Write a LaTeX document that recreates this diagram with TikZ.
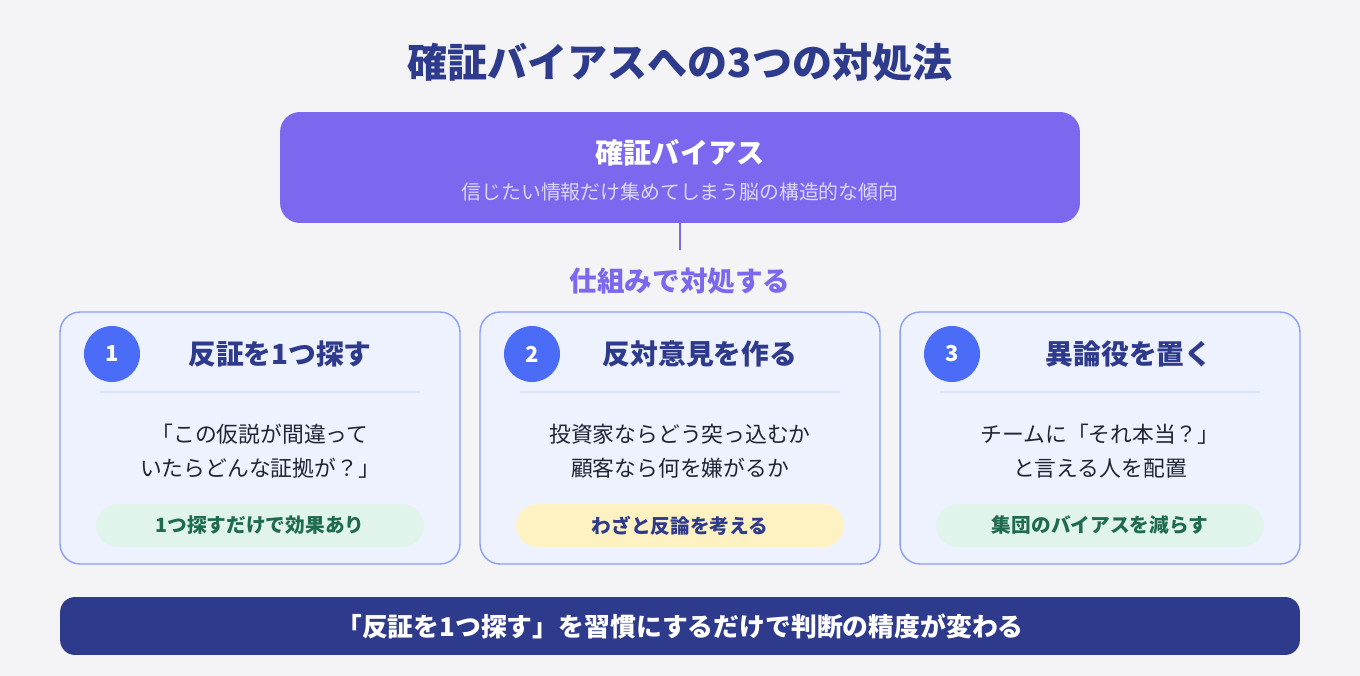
\documentclass[tikz,border=0pt]{standalone}
\usepackage{fontspec}
\setmainfont{Noto Sans CJK JP}

\definecolor{bgc}{HTML}{F4F4F7}
\definecolor{violet}{HTML}{7B68EE}
\definecolor{lavender}{HTML}{DCD6FB}
\definecolor{navy}{HTML}{2E3A8C}
\definecolor{cardbg}{HTML}{EEF2FF}
\definecolor{cardline}{HTML}{8AA0F8}
\definecolor{numblue}{HTML}{4A6CF7}
\definecolor{rule}{HTML}{DCE3FB}
\definecolor{ink}{HTML}{1F2433}
\definecolor{greenbg}{HTML}{E0F4EC}
\definecolor{greentx}{HTML}{1E6B4F}
\definecolor{yellowbg}{HTML}{FFF2C2}

\tikzstyle{card} = [draw=cardline, fill=cardbg, line width=0.8pt, rounded corners=0.4cm, minimum width=8cm, minimum height=5.04cm]
\tikzstyle{num} = [circle, fill=numblue, minimum size=1.12cm, inner sep=0pt, text=white, font=\bfseries\fontsize{12.5}{14}\selectfont]
\tikzstyle{ctitle} = [text=navy, font=\bfseries\fontsize{15.8}{18}\selectfont]
\tikzstyle{body} = [text=ink, align=center, font=\fontsize{12.4}{19.3}\selectfont]
\tikzstyle{pill} = [rounded corners=0.43cm, minimum width=6.56cm, minimum height=0.86cm, font=\bfseries\fontsize{11.2}{13}\selectfont]

\begin{document}
\begin{tikzpicture}[x=0.02cm, y=-0.02cm]
    \fill[bgc] (0,0) rectangle (1360,676);

    \node[text=navy, font=\bfseries\fontsize{22.8}{27}\selectfont] (T) at (680,62) {確証バイアスへの3つの対処法};

    % top box
    \node[fill=violet, rounded corners=0.4cm, minimum width=16cm, minimum height=2.22cm] (bias) at (680,167.5) {};
    \node[text=white, font=\bfseries\fontsize{16}{19}\selectfont] (biasT) at (680,153) {確証バイアス};
    \node[text=lavender, font=\fontsize{11.3}{13}\selectfont] (biasS) at (680,192) {信じたい情報だけ集めてしまう脳の構造的な傾向};
    \coordinate (link) at (680,250);
    \draw[violet, line width=1.4pt] (bias.south) -- (link);
    \node[text=violet, font=\bfseries\fontsize{15.7}{18}\selectfont] (how) at (680,281) {仕組みで対処する};

    % card 1
    \node[card] (C1) at (260,438) {};
    \node[num] (N1) at (112,354) {1};
    \node[ctitle] (H1) at (280,354) {反証を1つ探す};
    \draw[rule, line width=1.2pt] (100,392) -- (420,392);
    \node[body] (B1) at (260,451) {「この仮説が間違って\\いたらどんな証拠が？」};
    \node[pill, fill=greenbg, text=greentx] (P1) at (260,525.5) {1つ探すだけで効果あり};

    % card 2
    \node[card] (C2) at (680,438) {};
    \node[num] (N2) at (532,354) {2};
    \node[ctitle] (H2) at (700,354) {反対意見を作る};
    \draw[rule, line width=1.2pt] (520,392) -- (840,392);
    \node[body] (B2) at (680,451) {投資家ならどう突っ込むか\\顧客なら何を嫌がるか};
    \node[pill, fill=yellowbg, text=navy] (P2) at (680,525.5) {わざと反論を考える};

    % card 3
    \node[card] (C3) at (1100,438) {};
    \node[num] (N3) at (952,354) {3};
    \node[ctitle] (H3) at (1129,354) {異論役を置く};
    \draw[rule, line width=1.2pt] (940,392) -- (1260,392);
    \node[body] (B3) at (1100,451) {チームに「それ本当？」\\と言える人を配置};
    \node[pill, fill=greenbg, text=greentx] (P3) at (1100,525.5) {集団のバイアスを減らす};

    % bottom bar
    \node[fill=navy, rounded corners=0.3cm, minimum width=24.8cm, minimum height=1.16cm, text=white, font=\bfseries\fontsize{14.7}{18}\selectfont] (sum) at (680,626) {「反証を1つ探す」を習慣にするだけで判断の精度が変わる};
\end{tikzpicture}
\end{document}
